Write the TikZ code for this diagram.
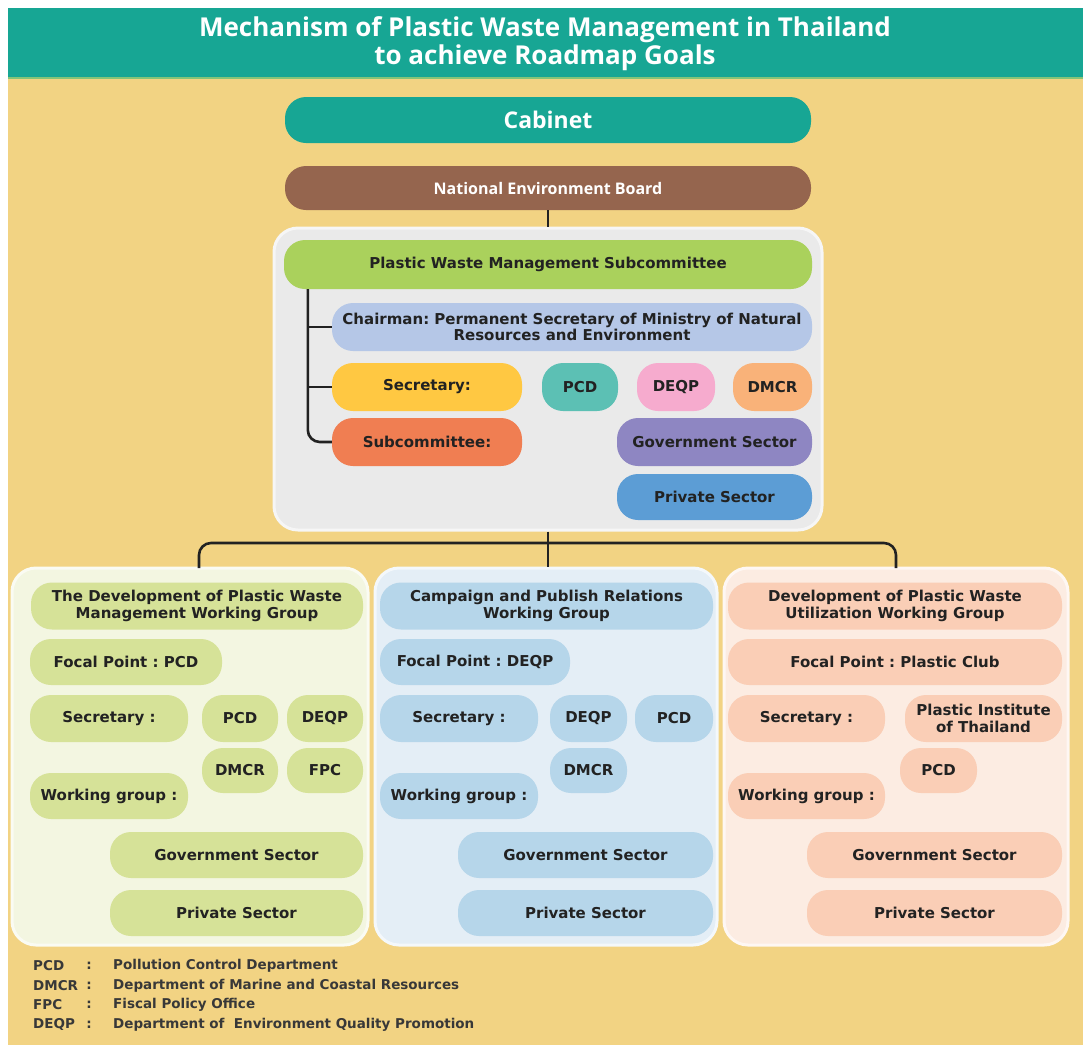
\documentclass[tikz,border=0pt]{standalone}
\usepackage{fontspec}
\setmainfont{DejaVu Sans}
\newfontfamily\headfont{Open Sans}
\usepackage{tikz}
\usetikzlibrary{positioning,calc}
\frenchspacing

\definecolor{bgyellow}{RGB}{242,211,131}
\definecolor{headteal}{RGB}{23,166,148}
\definecolor{headline}{RGB}{132,196,120}
\definecolor{nebbrown}{RGB}{149,101,78}
\definecolor{boxgray}{RGB}{234,234,234}
\definecolor{pwmsgreen}{RGB}{170,209,92}
\definecolor{chairblue}{RGB}{181,199,231}
\definecolor{secyellow}{RGB}{255,200,66}
\definecolor{pcdteal}{RGB}{92,192,180}
\definecolor{deqppink}{RGB}{246,171,206}
\definecolor{dmcrorange}{RGB}{249,178,121}
\definecolor{subcred}{RGB}{240,126,82}
\definecolor{govpurple}{RGB}{142,134,194}
\definecolor{privblue}{RGB}{92,157,213}
\definecolor{lpanel}{RGB}{243,246,225}
\definecolor{litem}{RGB}{214,226,152}
\definecolor{mpanel}{RGB}{228,238,246}
\definecolor{mitem}{RGB}{182,214,234}
\definecolor{rpanel}{RGB}{252,236,226}
\definecolor{ritem}{RGB}{250,206,182}
\definecolor{ink}{RGB}{34,34,34}

\newcommand{\boxfont}{\bfseries\fontsize{15}{16.5}\selectfont}
\newcommand{\legfont}{\bfseries\fontsize{13.5}{15}\selectfont}

\tikzset{
  pill/.style={rounded corners=21pt, inner sep=0pt, minimum height=46pt, align=center,
    text=ink, font=\boxfont},
  panel/.style={rounded corners=24pt, line width=3pt, inner sep=0pt},
  link/.style={line width=2.6pt, draw=ink},
  legend/.style={inner sep=0pt, text=ink!90, font=\legfont},
}

\begin{document}
\begin{tikzpicture}[x=1pt,y=-1pt]
  % page: white margin, teal title band, yellow field (1 unit = 1 px of the 1083x1045 sheet)
  \useasboundingbox (0,0) rectangle (1083,1045);
  \fill[white] (0,0) rectangle (1083,1045);
  \fill[bgyellow] (8,77) rectangle (1083,1045);
  \fill[headteal] (8,8) rectangle (1083,77);
  \draw[headline,line width=2pt] (8,77.5) -- (1083,77.5);
  \node[text=white,align=center,font=\headfont\bfseries\fontsize{26}{28}\selectfont] (title) at (545,44)
    {Mechanism of Plastic Waste Management in Thailand\\to achieve Roadmap Goals};

  % --- top of the chain
  \node[pill,fill=headteal,minimum width=526pt,text=white,font=\headfont\bfseries\fontsize{23}{24}\selectfont]
    (cabinet) at (548,120) {Cabinet};
  \node[pill,fill=nebbrown,minimum width=526pt,minimum height=44pt,text=white,
    font=\headfont\bfseries\fontsize{16}{17}\selectfont] (neb) at (548,188) {National Environment Board};

  % --- subcommittee block
  \node[panel,fill=boxgray,draw=white!55!boxgray,minimum width=548pt,minimum height=302pt] (subbox) at (548,379) {};
  \node[pill,fill=pwmsgreen,minimum width=528pt,minimum height=49pt] (pwms) at (548,264.5)
    {Plastic Waste Management Subcommittee};
  \node[pill,fill=chairblue,minimum width=480pt,minimum height=48pt] (chair) at (572,327)
    {Chairman: Permanent Secretary of Ministry of Natural\\Resources and Environment};
  \node[pill,fill=secyellow,minimum width=190pt,minimum height=48pt] (sec) at (427,387) {Secretary:};
  \node[pill,fill=pcdteal,minimum width=76pt,minimum height=48pt] (pcd) at (580,387) {PCD};
  \node[pill,fill=deqppink,minimum width=78pt,minimum height=48pt] (deqp) at (676,387) {DEQP};
  \node[pill,fill=dmcrorange,minimum width=79pt,minimum height=48pt] (dmcr) at (772.5,387) {DMCR};
  \node[pill,fill=subcred,minimum width=190pt,minimum height=48pt] (subc) at (427,442) {Subcommittee:};
  \node[pill,fill=govpurple,minimum width=195pt,minimum height=48pt] (gov) at (714.5,442) {Government Sector};
  \node[pill,fill=privblue,minimum width=195pt] (priv) at (714.5,497) {Private Sector};

  % member tree on the left of the block
  \coordinate (trunk) at ($(pwms.south west)+(24,0)$);
  \draw[link] (trunk |- chair.west) -- (chair.west);
  \draw[link] (trunk |- sec.west) -- (sec.west);
  \draw[link,rounded corners=12pt] (trunk) |- (subc.west);
  \draw[link] (neb.south) -- (subbox.north);

  % --- three working groups
  \node[panel,fill=lpanel,draw=white!60!lpanel,minimum width=356pt,minimum height=377pt] (leftp) at (190,756.5) {};
  \node[panel,fill=mpanel,draw=white!60!mpanel,minimum width=342pt,minimum height=377pt] (midp) at (546,756.5) {};
  \node[panel,fill=rpanel,draw=white!60!rpanel,minimum width=344pt,minimum height=377pt] (rightp) at (896,756.5) {};

  \coordinate (dropL) at (199,568);
  \coordinate (dropR) at (896,568);
  \draw[link,rounded corners=12pt] (dropL) -- (199,543) -- (896,543) -- (dropR);
  \draw[link] (subbox.south) -- (subbox.south |- midp.north);

  % left group
  \node[pill,fill=litem,minimum width=332pt,minimum height=47pt] (ltitle) at (197,606)
    {The Development of Plastic Waste\\Management Working Group};
  \node[pill,fill=litem,minimum width=192pt] (lfocal) at (126,662) {Focal Point : PCD};
  \node[pill,fill=litem,minimum width=158pt,minimum height=47pt] (lsec) at (109,718.5) {Secretary :};
  \node[pill,fill=litem,minimum width=76pt,minimum height=47pt] (lpcd) at (240,718.5) {PCD};
  \node[pill,fill=litem,minimum width=76pt,minimum height=47pt] (ldeqp) at (325,718.5) {DEQP};
  \node[pill,fill=litem,minimum width=76pt,minimum height=45pt] (ldmcr) at (240,770.5) {DMCR};
  \node[pill,fill=litem,minimum width=76pt,minimum height=45pt] (lfpc) at (325,770.5) {FPC};
  \node[pill,fill=litem,minimum width=158pt] (lwork) at (109,796) {Working group :};
  \node[pill,fill=litem,minimum width=253pt] (lgov) at (236.5,855) {Government Sector};
  \node[pill,fill=litem,minimum width=253pt] (lpriv) at (236.5,913) {Private Sector};

  % middle group
  \node[pill,fill=mitem,minimum width=333pt,minimum height=47pt] (mtitle) at (546.5,606)
    {Campaign and Publish Relations\\Working Group};
  \node[pill,fill=mitem,minimum width=190pt] (mfocal) at (475,662) {Focal Point : DEQP};
  \node[pill,fill=mitem,minimum width=158pt,minimum height=47pt] (msec) at (459,718.5) {Secretary :};
  \node[pill,fill=mitem,minimum width=77pt,minimum height=47pt] (mdeqp) at (588.5,718.5) {DEQP};
  \node[pill,fill=mitem,minimum width=78pt,minimum height=47pt] (mpcd) at (674,718.5) {PCD};
  \node[pill,fill=mitem,minimum width=77pt,minimum height=45pt] (mdmcr) at (588.5,770.5) {DMCR};
  \node[pill,fill=mitem,minimum width=158pt] (mwork) at (459,796) {Working group :};
  \node[pill,fill=mitem,minimum width=255pt] (mgov) at (585.5,855) {Government Sector};
  \node[pill,fill=mitem,minimum width=255pt] (mpriv) at (585.5,913) {Private Sector};

  % right group
  \node[pill,fill=ritem,minimum width=334pt,minimum height=47pt] (rtitle) at (895,606)
    {Development of Plastic Waste\\Utilization Working Group};
  \node[pill,fill=ritem,minimum width=334pt] (rfocal) at (895,662) {Focal Point : Plastic Club};
  \node[pill,fill=ritem,minimum width=157pt,minimum height=47pt] (rsec) at (806.5,718.5) {Secretary :};
  \node[pill,fill=ritem,minimum width=157pt,minimum height=47pt] (rpit) at (983.5,718.5)
    {Plastic Institute\\of Thailand};
  \node[pill,fill=ritem,minimum width=77pt,minimum height=45pt] (rpcd) at (938.5,770.5) {PCD};
  \node[pill,fill=ritem,minimum width=157pt] (rwork) at (806.5,796) {Working group :};
  \node[pill,fill=ritem,minimum width=255pt] (rgov) at (934.5,855) {Government Sector};
  \node[pill,fill=ritem,minimum width=255pt] (rpriv) at (934.5,913) {Private Sector};

  % abbreviations
  \foreach \ab/\ds [count=\k] in {PCD/Pollution Control Department,
      DMCR/Department of Marine and Coastal Resources,
      FPC/Fiscal Policy Office,
      DEQP/Department of\ \ Environment Quality Promotion} {
    \node[legend,anchor=west] (abbr\k) at (33,{946.5+19.5*\k}) {\ab};
    \node[legend] (colon\k) at (89,{946.5+19.5*\k}) {:};
    \node[legend,anchor=west] (desc\k) at (113,{946.5+19.5*\k}) {\ds};
  }
\end{tikzpicture}
\end{document}
